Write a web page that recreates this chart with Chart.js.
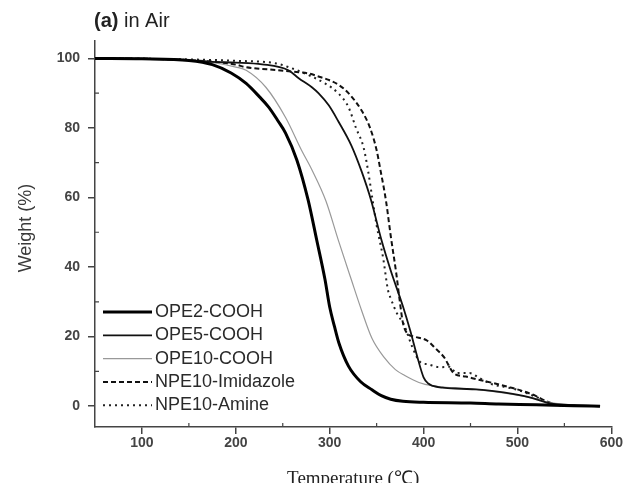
<!DOCTYPE html>
<html>
<head>
<meta charset="utf-8">
<title>TGA in Air</title>
<script src="https://cdn.jsdelivr.net/npm/chart.js@4.4.0/dist/chart.umd.min.js"></script>
<style>
  body { margin: 0; background: #fff; }
  #tgaChart { display: block; }
</style>
</head>
<body>
<canvas id="tgaChart" width="624" height="483"></canvas>
<script>
// TGA DATA (temperature in C, weight in %)
const seriesNames = ["OPE2-COOH", "OPE5-COOH", "OPE10-COOH", "NPE10-Imidazole", "NPE10-Amine"];

const ope2Temp = [50, 100, 150, 175, 195, 211, 225, 235, 245, 253, 265, 277, 286, 295, 300, 305, 310, 320, 333, 345, 355, 365, 378, 400, 450, 480, 520, 560, 588];
const ope2Weight = [100, 99.9, 99.4, 98.2, 95.8, 92.8, 89, 86, 82, 78.5, 70.8, 59.3, 48, 36.4, 28.5, 23, 18, 11.5, 7, 4.7, 3, 2, 1.4, 1.1, 0.9, 0.6, 0.4, 0.1, 0];

const ope5Temp = [50, 100, 150, 175, 200, 228, 256, 267, 281, 288, 299, 309, 323, 334, 344, 355, 365, 378, 386, 393, 400, 405, 410, 420, 440, 456, 475, 495, 515, 535, 560, 588];
const ope5Weight = [100, 99.9, 99.5, 99, 98.8, 98.3, 96.6, 94.3, 91.7, 90, 86.5, 82, 75, 67.5, 59.3, 47.9, 39, 28.7, 21.5, 14.5, 8.3, 6.5, 5.8, 5.3, 5.0, 4.8, 4.3, 3.5, 2.4, 0.8, 0.3, 0];

const ope10Temp = [50, 100, 150, 180, 200, 211, 232, 253, 270, 281, 296, 309, 323, 334, 345, 358, 370, 380, 395, 410, 430, 450, 475, 495, 515, 536, 560, 588];
const ope10Weight = [100, 99.9, 99.5, 98.6, 97.5, 96.6, 91.7, 83, 73.6, 68, 59, 47.9, 36.4, 27.5, 19.5, 14, 10.5, 8.8, 6.8, 5.8, 5.3, 4.9, 4.2, 3.4, 2.4, 1.0, 0.3, 0];

const imidTemp = [50, 100, 150, 200, 210, 245, 267, 277, 288, 299, 310, 320, 334, 343, 350, 354, 360, 365, 371, 375, 378, 383, 390, 404, 413, 422, 432, 445, 457, 473, 492, 505, 519, 530, 540, 555, 588];
const imidWeight = [100, 99.9, 99.5, 98.2, 97.5, 96.6, 96, 95.7, 94.8, 93.8, 92.3, 90, 85, 80, 73.6, 68, 59, 49, 38, 29.5, 24, 20.8, 20, 18.8, 16.5, 14, 9.5, 8.5, 7.7, 6.7, 5.4, 4.4, 3, 1.5, 0.5, 0.1, 0];

const amineTemp = [50, 100, 150, 200, 242, 256, 275, 295, 309, 320, 328, 336, 341, 345, 350, 357, 362, 365, 372, 379, 388, 396, 405, 417, 428, 435, 449, 460, 473, 487, 501, 512, 522, 532, 545, 588];
const amineWeight = [100, 99.9, 99.7, 99.3, 98.6, 97.5, 95.5, 92.8, 90, 86, 80, 74.5, 67.5, 60.5, 52, 42.5, 33.5, 31, 26.5, 23.5, 17, 12.8, 12, 11.2, 11.3, 9.5, 9.5, 8, 6.3, 5.5, 4.6, 3.5, 2.4, 1.1, 0.2, 0];

// tick labels
const xTicks = [100, 200, 300, 400, 500, 600];
const yTicks = [0, 20, 40, 60, 80, 100];
const xMinor = [150, 250, 350, 450, 550];
const yMinor = [10, 30, 50, 70, 90];

function toPoints(temps, weights) {
  return temps.map(function (t, i) { return { x: t, y: weights[i] }; });
}

const axisColor = "#444";

// titles, minor ticks and legend drawn on top of the chart
const extrasPlugin = {
  id: "extras",
  afterDraw: function (chart) {
    const ctx = chart.ctx;
    const xs = chart.scales.x;
    const ys = chart.scales.y;
    const area = chart.chartArea;
    ctx.save();

    // minor ticks point inward
    ctx.strokeStyle = axisColor;
    ctx.lineWidth = 1.2;
    ctx.beginPath();
    xMinor.forEach(function (v) {
      const px = xs.getPixelForValue(v);
      ctx.moveTo(px, area.bottom);
      ctx.lineTo(px, area.bottom - 4);
    });
    yMinor.forEach(function (v) {
      const py = ys.getPixelForValue(v);
      ctx.moveTo(area.left, py);
      ctx.lineTo(area.left + 4, py);
    });
    ctx.stroke();

    // main title "(a) in Air"
    ctx.fillStyle = "#222";
    ctx.textBaseline = "middle";
    ctx.textAlign = "left";
    ctx.font = "bold 20px 'Liberation Sans', Arial, sans-serif";
    ctx.fillText("(a)", 94, 21);
    const w = ctx.measureText("(a)").width;
    ctx.font = "20px 'Liberation Sans', Arial, sans-serif";
    ctx.fillText(" in Air", 94 + w, 21);

    // y axis title
    ctx.save();
    ctx.translate(26, 228);
    ctx.rotate(-Math.PI / 2);
    ctx.textAlign = "center";
    ctx.fillStyle = "#3a3a3a";
    ctx.font = "18px 'Liberation Sans', Arial, sans-serif";
    ctx.fillText("Weight (%)", 0, 0);
    ctx.restore();

    // x axis title
    ctx.textAlign = "center";
    ctx.fillStyle = "#222";
    ctx.font = "19px 'Liberation Serif', 'Times New Roman', serif";
    ctx.fillText("Temperature (\u2103)", (area.left + area.right) / 2, 479);

    // legend
    ctx.textAlign = "left";
    ctx.font = "18px 'Liberation Sans', Arial, sans-serif";
    chart.data.datasets.forEach(function (ds, i) {
      const ly = 312 + i * 23.3;
      ctx.save();
      ctx.strokeStyle = ds.borderColor;
      ctx.lineWidth = ds.borderWidth;
      ctx.setLineDash(ds.borderDash || []);
      ctx.beginPath();
      ctx.moveTo(103, ly);
      ctx.lineTo(152, ly);
      ctx.stroke();
      ctx.restore();
      ctx.fillStyle = "#2a2a2a";
      ctx.fillText(ds.label, 155, ly);
    });

    ctx.restore();
  }
};

const ctx = document.getElementById("tgaChart").getContext("2d");

const tgaChart = new Chart(ctx, {
  type: "line",
  data: {
    datasets: [
      { label: seriesNames[0], data: toPoints(ope2Temp, ope2Weight), borderColor: "#000", borderWidth: 3 },
      { label: seriesNames[1], data: toPoints(ope5Temp, ope5Weight), borderColor: "#111", borderWidth: 1.8 },
      { label: seriesNames[2], data: toPoints(ope10Temp, ope10Weight), borderColor: "#999", borderWidth: 1.2 },
      { label: seriesNames[3], data: toPoints(imidTemp, imidWeight), borderColor: "#111", borderWidth: 2, borderDash: [5, 3] },
      { label: seriesNames[4], data: toPoints(amineTemp, amineWeight), borderColor: "#222", borderWidth: 2, borderDash: [2, 4] }
    ]
  },
  options: {
    responsive: false,
    animation: false,
    events: [],
    elements: {
      point: { radius: 0 },
      line: { cubicInterpolationMode: "monotone", fill: false }
    },
    layout: { padding: { top: 41, right: 9, left: 0, bottom: 0 } },
    plugins: {
      legend: { display: false },
      tooltip: { enabled: false }
    },
    scales: {
      x: {
        type: "linear",
        min: 50,
        max: 600,
        afterBuildTicks: function (scale) {
          scale.ticks = xTicks.map(function (v) { return { value: v }; });
        },
        afterFit: function (scale) { scale.height = 56; },
        grid: { drawOnChartArea: false, drawTicks: true, tickLength: 7, color: axisColor, lineWidth: 1.5 },
        border: { display: true, color: axisColor, width: 1.5 },
        ticks: {
          padding: 1,
          maxRotation: 0,
          color: "#444",
          font: { family: "'Liberation Sans', Arial, sans-serif", size: 14, weight: "bold" }
        }
      },
      y: {
        type: "linear",
        min: -6,
        max: 105,
        afterBuildTicks: function (scale) {
          scale.ticks = yTicks.map(function (v) { return { value: v }; });
        },
        afterFit: function (scale) { scale.width = 95; },
        grid: { drawOnChartArea: false, drawTicks: true, tickLength: 7, color: axisColor, lineWidth: 1.5 },
        border: { display: true, color: axisColor, width: 1.5 },
        ticks: {
          padding: 8,
          color: "#444",
          font: { family: "'Liberation Sans', Arial, sans-serif", size: 14, weight: "bold" }
        }
      }
    }
  },
  plugins: [extrasPlugin]
});
</script>
</body>
</html>
